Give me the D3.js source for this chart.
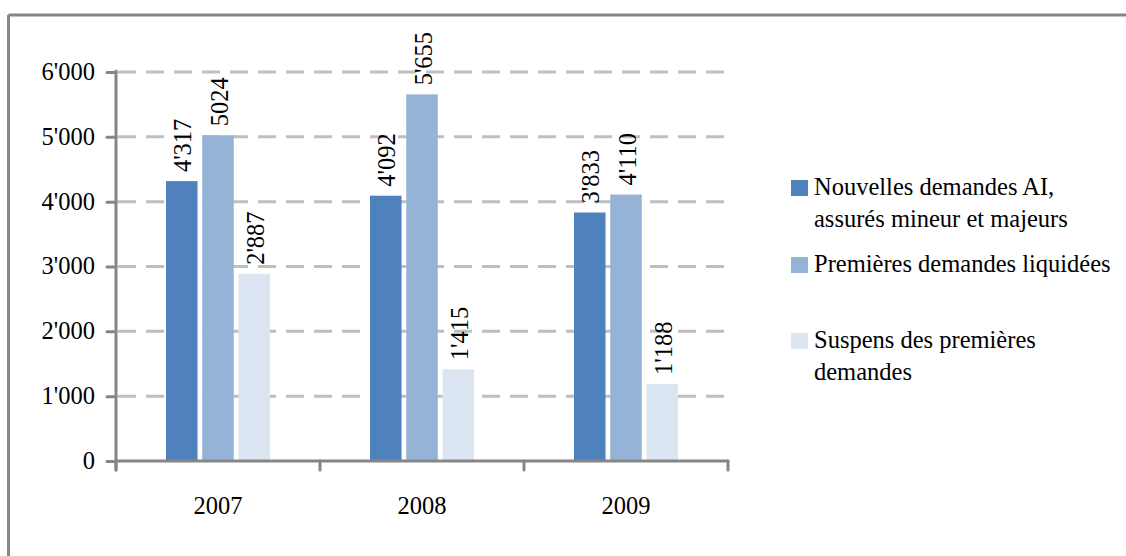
<!DOCTYPE html>
<html>
<head>
<meta charset="utf-8">
<script src="https://cdn.jsdelivr.net/npm/d3@7"></script>
<style>
  html, body { margin: 0; padding: 0; background: #fff; }
  svg { display: block; }
  text { font-family: "Liberation Serif", serif; fill: #000; }
</style>
</head>
<body>
<svg id="chart" width="1126" height="556"></svg>
<script>
// Years on the category axis
const years = ["2007", "2008", "2009"];

// Series names (legend lines) and colours
const seriesNames = [
  ["Nouvelles demandes AI,", "assurés mineur et majeurs"],
  ["Premières demandes liquidées"],
  ["Suspens des premières", "demandes"]
];
const seriesColors = ["#4F81BD", "#95B3D7", "#DCE6F2"];

// Values per series, one per year
const nouvelles = [4317, 4092, 3833];
const liquidees = [5024, 5655, 4110];
const suspens = [2887, 1415, 1188];

// Value labels as printed above the bars
const nouvellesLabels = ["4'317", "4'092", "3'833"];
const liquideesLabels = ["5024", "5'655", "4'110"];
const suspensLabels = ["2'887", "1'415", "1'188"];

// Y axis ticks
const yTicks = [0, 1000, 2000, 3000, 4000, 5000, 6000];
const yTickLabels = ["0", "1'000", "2'000", "3'000", "4'000", "5'000", "6'000"];

const seriesValues = [nouvelles, liquidees, suspens];
const seriesLabels = [nouvellesLabels, liquideesLabels, suspensLabels];

const svg = d3.select("#chart");
const FONT = 24.5;
const FAMILY = "Liberation Serif";
const AXIS = "#868686";

// Outer frame (top and left edges)
svg.append("line").attr("x1", 8.5).attr("x2", 1126).attr("y1", 15).attr("y2", 15)
  .attr("stroke", AXIS).attr("stroke-width", 3);
svg.append("line").attr("x1", 8.5).attr("x2", 8.5).attr("y1", 15).attr("y2", 556)
  .attr("stroke", AXIS).attr("stroke-width", 3);

const x0 = 116, x1 = 728, yTop = 72, yBase = 461;

const x = d3.scaleBand().domain(years).range([x0, x1]).padding(0);
const xs = d3.scaleBand().domain(d3.range(3)).range([50, 154]).paddingInner(0.13).paddingOuter(0);
const y = d3.scaleLinear().domain([0, 6000]).range([yBase, yTop]);

// Dashed gridlines
svg.append("g").selectAll("line").data(yTicks.filter(d => d > 0)).join("line")
  .attr("x1", x0 + 2).attr("x2", x1 - 2)
  .attr("y1", d => y(d)).attr("y2", d => y(d))
  .attr("stroke", "#BFBFBF").attr("stroke-width", 3)
  .attr("stroke-dasharray", "18 10");

// Bars with rotated value labels
const groups = svg.append("g").selectAll("g").data(years).join("g")
  .attr("transform", d => `translate(${x(d)},0)`);

groups.each(function(year, i) {
  const g = d3.select(this);
  seriesValues.forEach((vals, s) => {
    g.append("rect")
      .attr("x", xs(s)).attr("width", xs.bandwidth())
      .attr("y", y(vals[i])).attr("height", yBase - y(vals[i]))
      .attr("fill", seriesColors[s]);
    g.append("text")
      .attr("transform", `translate(${xs(s) + xs.bandwidth() / 2 + 1},${y(vals[i]) - 9}) rotate(-90)`)
      .attr("dominant-baseline", "central")
      .attr("font-family", FAMILY)
      .attr("font-size", FONT)
      .text(seriesLabels[s][i]);
  });
});

// Y axis
const yAxis = d3.axisLeft(y).tickValues(yTicks)
  .tickFormat((d, i) => yTickLabels[i]).tickSize(9).tickPadding(12);
const gy = svg.append("g").attr("transform", `translate(${x0},0)`).call(yAxis);
gy.attr("font-family", FAMILY).attr("font-size", FONT);
gy.select(".domain").remove();
gy.selectAll(".tick line").attr("stroke", AXIS).attr("stroke-width", 3).attr("stroke-linecap", "round");
gy.selectAll(".tick text").attr("fill", "#000").attr("dy", "0.3em");
svg.append("line").attr("x1", x0).attr("x2", x0).attr("y1", yTop - 1).attr("y2", yBase + 9)
  .attr("stroke", AXIS).attr("stroke-width", 3).attr("stroke-linecap", "round");

// X axis
svg.append("line").attr("x1", x0).attr("x2", x1).attr("y1", yBase).attr("y2", yBase)
  .attr("stroke", AXIS).attr("stroke-width", 3).attr("stroke-linecap", "round");
svg.append("g").selectAll("line").data([...years.map(d => x(d)), x1]).join("line")
  .attr("x1", d => d).attr("x2", d => d).attr("y1", yBase).attr("y2", yBase + 9)
  .attr("stroke", AXIS).attr("stroke-width", 3).attr("stroke-linecap", "round");
svg.append("g").selectAll("text").data(years).join("text")
  .attr("x", d => x(d) + x.bandwidth() / 2).attr("y", 514)
  .attr("text-anchor", "middle").attr("font-family", FAMILY).attr("font-size", FONT)
  .text(d => d);

// Legend
const legendY = [195, 272, 348];
const legend = svg.append("g").selectAll("g").data(seriesNames).join("g")
  .attr("transform", (d, i) => `translate(791,${legendY[i]})`);
legend.append("rect").attr("x", 0).attr("y", -15).attr("width", 17).attr("height", 16)
  .attr("fill", (d, i) => seriesColors[i]);
legend.append("text").attr("font-family", FAMILY).attr("font-size", FONT)
  .selectAll("tspan").data(d => d).join("tspan")
  .attr("x", 23).attr("y", (d, j) => j * 32).text(d => d);
</script>
</body>
</html>
